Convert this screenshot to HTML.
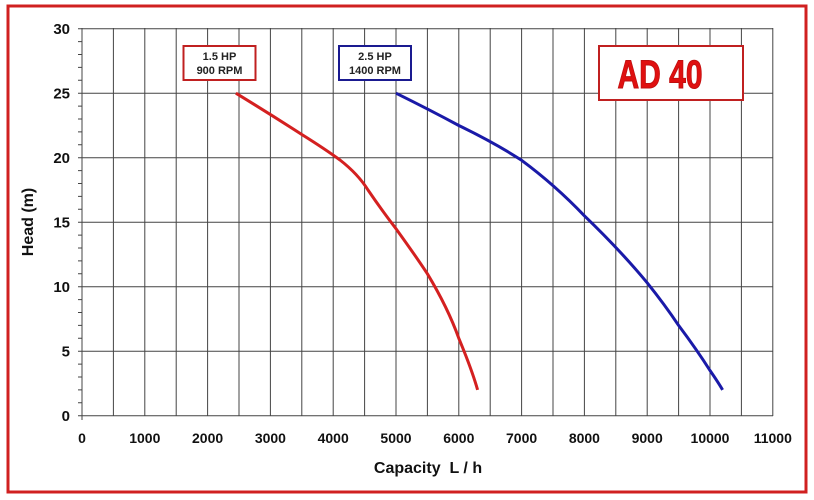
<!DOCTYPE html>
<html><head><style>body{margin:0;background:#fff}svg{display:block}</style></head><body>
<svg width="814" height="500" xmlns="http://www.w3.org/2000/svg" font-family="Liberation Sans, Arial, sans-serif">
<rect x="0" y="0" width="814" height="500" fill="#fff"/>
<rect x="8" y="6" width="798" height="486" fill="none" stroke="#d02020" stroke-width="3"/>
<g stroke="#444" stroke-width="1">
<line x1="113.4" y1="28" x2="113.4" y2="416"/><line x1="144.8" y1="28" x2="144.8" y2="416"/><line x1="176.2" y1="28" x2="176.2" y2="416"/><line x1="207.6" y1="28" x2="207.6" y2="416"/><line x1="239" y1="28" x2="239" y2="416"/><line x1="270.4" y1="28" x2="270.4" y2="416"/><line x1="301.8" y1="28" x2="301.8" y2="416"/><line x1="333.2" y1="28" x2="333.2" y2="416"/><line x1="364.6" y1="28" x2="364.6" y2="416"/><line x1="396" y1="28" x2="396" y2="416"/><line x1="427.4" y1="28" x2="427.4" y2="416"/><line x1="458.8" y1="28" x2="458.8" y2="416"/><line x1="490.2" y1="28" x2="490.2" y2="416"/><line x1="521.6" y1="28" x2="521.6" y2="416"/><line x1="553" y1="28" x2="553" y2="416"/><line x1="584.4" y1="28" x2="584.4" y2="416"/><line x1="615.8" y1="28" x2="615.8" y2="416"/><line x1="647.2" y1="28" x2="647.2" y2="416"/><line x1="678.6" y1="28" x2="678.6" y2="416"/><line x1="710" y1="28" x2="710" y2="416"/><line x1="741.4" y1="28" x2="741.4" y2="416"/><line x1="772.8" y1="28" x2="772.8" y2="416"/>
<line x1="78" y1="28.7" x2="773" y2="28.7"/><line x1="78" y1="93.2" x2="773" y2="93.2"/><line x1="78" y1="157.7" x2="773" y2="157.7"/><line x1="78" y1="222.2" x2="773" y2="222.2"/><line x1="78" y1="286.7" x2="773" y2="286.7"/><line x1="78" y1="351.2" x2="773" y2="351.2"/><line x1="78" y1="415.7" x2="773" y2="415.7"/>
<line x1="82" y1="28" x2="82" y2="420"/>
</g>
<g stroke="#444" stroke-width="1">
<path d="M78 41.6h4M78 54.5h4M78 67.4h4M78 80.3h4M78 106.1h4M78 119h4M78 131.9h4M78 144.8h4M78 170.6h4M78 183.5h4M78 196.4h4M78 209.3h4M78 235.1h4M78 248h4M78 260.9h4M78 273.8h4M78 299.6h4M78 312.5h4M78 325.4h4M78 338.3h4M78 364.1h4M78 377h4M78 389.9h4M78 402.8h4"/>
</g>
<g font-size="15" font-weight="bold" fill="#111" text-anchor="end">
<text x="70" y="34">30</text><text x="70" y="98.5">25</text><text x="70" y="163">20</text><text x="70" y="227.5">15</text><text x="70" y="292">10</text><text x="70" y="356.5">5</text><text x="70" y="421">0</text>
</g>
<g font-size="14" font-weight="bold" fill="#111" text-anchor="middle">
<text x="82" y="443">0</text><text x="144.8" y="443">1000</text><text x="207.6" y="443">2000</text><text x="270.4" y="443">3000</text><text x="333.2" y="443">4000</text><text x="396" y="443">5000</text><text x="458.8" y="443">6000</text><text x="521.6" y="443">7000</text><text x="584.4" y="443">8000</text><text x="647.2" y="443">9000</text><text x="710" y="443">10000</text><text x="772.8" y="443">11000</text>
</g>
<text x="428" y="473" font-size="16" font-weight="bold" fill="#111" text-anchor="middle">Capacity &#160;L / h</text>
<text transform="translate(33,222) rotate(-90)" font-size="16" font-weight="bold" fill="#111" text-anchor="middle">Head (m)</text>
<path fill="none" stroke="#d42020" stroke-width="3" stroke-linejoin="round" d="M235.9,93.2 Q270,114 301.8,134.5 Q325,149 340,160 Q358,174 368,190 Q383,212 396,228.7 Q415,255 427.4,273.8 Q448,308 458.8,338.3 Q472,370 477.6,389.9"/>
<path fill="none" stroke="#1a1aa8" stroke-width="3" stroke-linejoin="round" d="M396,93.2 Q430,110 458.8,125.5 Q495,143 521.6,160.3 Q555,185 584.4,215.8 Q620,250 647.2,282.8 Q665,305 678.6,325.4 Q697,350 710,370.5 Q718,382 722.6,389.9"/>
<rect x="183.5" y="46" width="72" height="34" fill="#fff" stroke="#c02020" stroke-width="2"/>
<text x="219.5" y="60" font-size="11" font-weight="bold" fill="#222" text-anchor="middle">1.5 HP</text>
<text x="219.5" y="74" font-size="11" font-weight="bold" fill="#222" text-anchor="middle">900 RPM</text>
<rect x="339" y="46" width="72" height="34" fill="#fff" stroke="#1a1a90" stroke-width="2"/>
<text x="375" y="60" font-size="11" font-weight="bold" fill="#222" text-anchor="middle">2.5 HP</text>
<text x="375" y="74" font-size="11" font-weight="bold" fill="#222" text-anchor="middle">1400 RPM</text>
<rect x="599" y="46" width="144" height="54" fill="#fff" stroke="#c02020" stroke-width="2"/>
<text x="0" y="0" font-size="40" font-weight="bold" fill="#e01010" stroke="#c01010" stroke-width="1" text-anchor="middle" transform="translate(660,88) scale(0.75,1)">AD 40</text>
</svg>
</body></html>
